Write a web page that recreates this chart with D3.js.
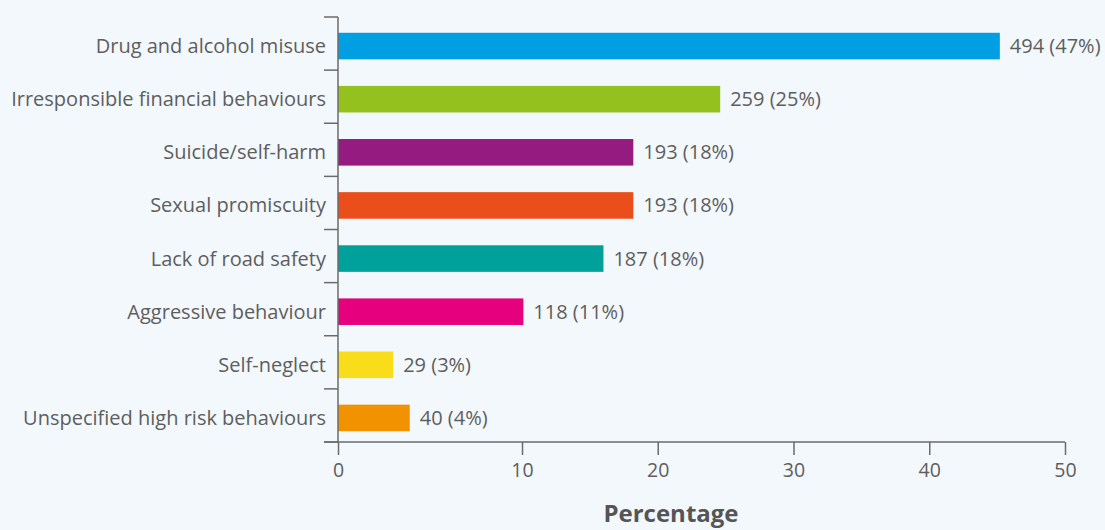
<!DOCTYPE html>
<html>
<head>
<meta charset="utf-8">
<script src="https://cdn.jsdelivr.net/npm/d3@7"></script>
<style>
  html, body { margin: 0; padding: 0; background: #f3f8fc; }
  svg { display: block; }
  text { font-family: "Open Sans", Lato, sans-serif; }
</style>
</head>
<body>
<svg id="chart" width="1105" height="530"></svg>
<script>
const categories = [
  "Drug and alcohol misuse",
  "Irresponsible financial behaviours",
  "Suicide/self-harm",
  "Sexual promiscuity",
  "Lack of road safety",
  "Aggressive behaviour",
  "Self-neglect",
  "Unspecified high risk behaviours"
];
const values = [45.2, 24.6, 18.2, 18.2, 16.0, 10.1, 3.0, 3.9];
const valueLabels = ["494 (47%)", "259 (25%)", "193 (18%)", "193 (18%)", "187 (18%)", "118 (11%)", "29 (3%)", "40 (4%)"];
const colors = ["#009fe3", "#95c11f", "#951b81", "#e94e1b", "#00a19a", "#e6007e", "#f9dc1a", "#f39200"];
const xTicks = [0, 10, 20, 30, 40, 50];
const xTitle = "Percentage";

const svg = d3.select("#chart");
const textColor = "#5e5e5e";
const axisColor = "#6b6b6b";
const fontFam = "'Open Sans', Lato, sans-serif";

const x = d3.scaleLinear().domain([0, 10, 50]).range([338, 522, 1065]);
const y = d3.scaleBand().domain(categories).range([19.5, 444.5]).paddingInner(0.5).paddingOuter(0.25);

// bars
svg.append("g").selectAll("rect").data(categories).join("rect")
  .attr("x", x(0))
  .attr("y", d => y(d))
  .attr("width", (d, i) => x(values[i]) - x(0))
  .attr("height", y.bandwidth())
  .attr("fill", (d, i) => colors[i]);

// value labels
svg.append("g").selectAll("text").data(categories).join("text")
  .attr("x", (d, i) => x(values[i]) + 10)
  .attr("y", d => y(d) + y.bandwidth() / 2)
  .attr("dy", "0.35em")
  .attr("fill", textColor)
  .attr("font-size", 20)
  .text((d, i) => valueLabels[i]);

// y axis: band boundary ticks
const bounds = d3.range(categories.length + 1).map(i => 17 + i * (425 / categories.length));
const yAxisG = svg.append("g");
yAxisG.append("line")
  .attr("x1", 338).attr("x2", 338)
  .attr("y1", bounds[0]).attr("y2", bounds[bounds.length - 1])
  .attr("stroke", axisColor).attr("stroke-width", 1.5);
yAxisG.selectAll("line.tk").data(bounds).join("line").attr("class", "tk")
  .attr("x1", 324).attr("x2", 338)
  .attr("y1", d => d).attr("y2", d => d)
  .attr("stroke", axisColor).attr("stroke-width", 1.5);
yAxisG.selectAll("text").data(categories).join("text")
  .attr("x", 326)
  .attr("y", d => y(d) + y.bandwidth() / 2)
  .attr("dy", "0.35em")
  .attr("text-anchor", "end")
  .attr("fill", textColor)
  .attr("font-size", 20)
  .text(d => d);

// x axis
const xAxis = d3.axisBottom(x).tickValues(xTicks).tickSize(13).tickSizeOuter(0).tickPadding(8);
const xg = svg.append("g").attr("transform", "translate(0,442)").call(xAxis);
xg.select(".domain").attr("stroke", axisColor).attr("stroke-width", 1.5).attr("d", "M324,0H1065");
xg.selectAll(".tick line").attr("stroke", axisColor).attr("stroke-width", 1.5);
xg.selectAll(".tick text").attr("fill", textColor).attr("font-size", 19.5)
  .attr("font-family", fontFam);

svg.append("text")
  .attr("x", 671).attr("y", 522)
  .attr("text-anchor", "middle")
  .attr("fill", "#555")
  .attr("font-size", 24)
  .attr("font-weight", "bold")
  .text(xTitle);
</script>
</body>
</html>
